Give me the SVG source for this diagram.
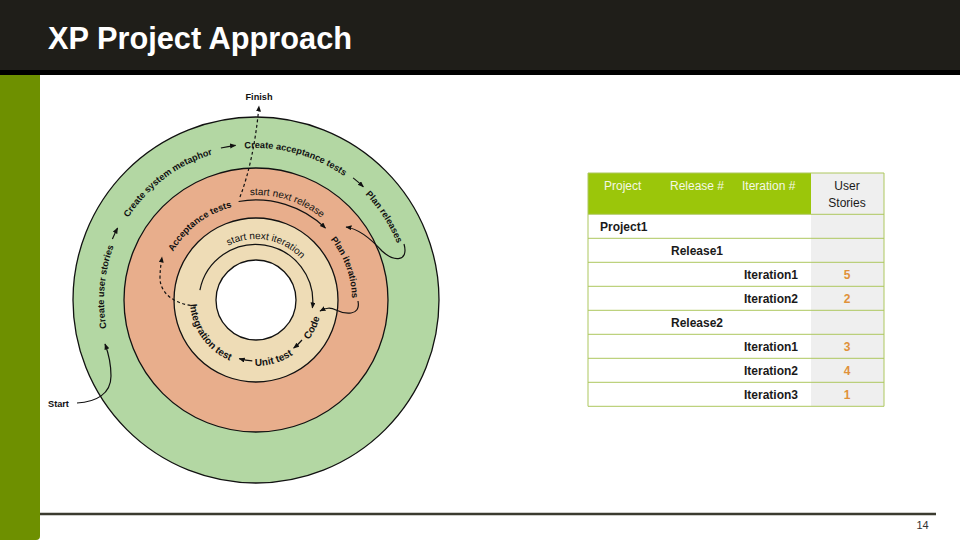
<svg xmlns="http://www.w3.org/2000/svg" xmlns:xlink="http://www.w3.org/1999/xlink" width="960" height="540" viewBox="0 0 960 540">
<style>
.lbl{font-family:"Liberation Sans",Arial,sans-serif;font-size:9.2px;font-weight:bold;fill:#111}
.lblr{font-family:"Liberation Sans",Arial,sans-serif;font-size:10px;fill:#111}
.lblb{font-family:"Liberation Sans",Arial,sans-serif;font-size:10px;font-weight:bold;fill:#111}
.ring{stroke:#111;stroke-width:1.3}
.con{fill:none;stroke:#111;stroke-width:1.2}
.dash{stroke-dasharray:3,2.5}
.th{font-family:"Liberation Sans",Arial,sans-serif;font-size:12px;fill:#f4f8e6}
.td{font-family:"Liberation Sans",Arial,sans-serif;font-size:12px;font-weight:bold;fill:#1a1a1a}
.num{font-family:"Liberation Sans",Arial,sans-serif;font-size:12px;font-weight:bold;fill:#e0913a;text-anchor:middle}
.grid{stroke:#adc75e;stroke-width:1}
</style>
<defs>
<marker id="ah" markerWidth="7" markerHeight="6" refX="5.5" refY="2.5" orient="auto" markerUnits="userSpaceOnUse">
<path d="M0,0 L6,2.5 L0,5 z" fill="#111"/>
</marker>
<path id="pGreen" d="M256,452 A152,152 0 1 1 256,148 A152,152 0 1 1 256,452"/>
<path id="pSalmon" d="M256,396 A96,96 0 1 1 256,204 A96,96 0 1 1 256,396"/>
<path id="pRel" d="M256,405 A105,105 0 1 1 256,195 A105,105 0 1 1 256,405"/>
<path id="pIter" d="M256,361 A61,61 0 1 1 256,239 A61,61 0 1 1 256,361"/>
<path id="pBeigeCCW" d="M256,234 A66,66 0 1 0 256,366 A66,66 0 1 0 256,234"/>
</defs>

<!-- slide frame -->
<rect x="0" y="0" width="960" height="70" fill="#1f1e19"/>
<rect x="0" y="70" width="960" height="5" fill="#000"/>
<path d="M0,75 H40 V536 Q40,540 36,540 H0 z" fill="#6e9000"/>
<text x="48" y="49" textLength="304" lengthAdjust="spacingAndGlyphs" style="font-family:'Liberation Sans',Arial,sans-serif;font-size:31px;font-weight:bold;fill:#fff">XP Project Approach</text>
<line x1="40" y1="514" x2="936" y2="514" stroke="#3b3b2f" stroke-width="2.5"/>
<text x="922.5" y="529" text-anchor="middle" style="font-family:'Liberation Sans',Arial,sans-serif;font-size:11px;fill:#333">14</text>

<!-- rings -->
<g id="ring-project"><circle class="ring" cx="256" cy="300" r="183" fill="#b3d7a3"/></g>
<g id="ring-release"><circle class="ring" cx="256" cy="300" r="132" fill="#e8ae8c"/></g>
<g id="ring-iteration"><circle class="ring" cx="256" cy="300" r="82" fill="#eedcb6"/></g>
<g id="ring-core"><circle class="ring" cx="256" cy="300" r="40" fill="#fff"/></g>

<!-- nodes (labels) -->
<g id="node-finish"><text class="lbl" x="259" y="100" text-anchor="middle">Finish</text></g>
<g id="node-start"><text class="lbl" x="48" y="407">Start</text></g>
<g id="node-user-stories"><text class="lbl" text-anchor="middle"><textPath xlink:href="#pGreen" href="#pGreen" startOffset="252">Create user stories</textPath></text></g>
<g id="node-metaphor"><text class="lbl" text-anchor="middle"><textPath xlink:href="#pGreen" href="#pGreen" startOffset="379.4">Create system metaphor</textPath></text></g>
<g id="node-acceptance-create"><text class="lbl" text-anchor="middle"><textPath xlink:href="#pGreen" href="#pGreen" startOffset="518.6">Create acceptance tests</textPath></text></g>
<g id="node-plan-releases"><text class="lbl" text-anchor="middle"><textPath xlink:href="#pGreen" href="#pGreen" startOffset="628.7">Plan releases</textPath></text></g>
<g id="node-acceptance-tests"><text class="lbl" text-anchor="middle"><textPath xlink:href="#pSalmon" href="#pSalmon" startOffset="238.8">Acceptance tests</textPath></text></g>
<g id="node-plan-iterations"><text class="lbl" text-anchor="middle"><textPath xlink:href="#pSalmon" href="#pSalmon" startOffset="418">Plan iterations</textPath></text></g>
<g id="node-next-release"><text class="lblr" text-anchor="middle"><textPath xlink:href="#pRel" href="#pRel" startOffset="361.9">start next release</textPath></text></g>
<g id="node-next-iteration"><text class="lblr" text-anchor="middle"><textPath xlink:href="#pIter" href="#pIter" startOffset="202.3">start next iteration</textPath></text></g>
<g id="node-integration"><text class="lblb" text-anchor="middle"><textPath xlink:href="#pBeigeCCW" href="#pBeigeCCW" startOffset="144">Integration test</textPath></text></g>
<g id="node-unit"><text class="lblb" text-anchor="middle"><textPath xlink:href="#pBeigeCCW" href="#pBeigeCCW" startOffset="226.3">Unit test</textPath></text></g>
<g id="node-code"><text class="lblb" text-anchor="middle"><textPath xlink:href="#pBeigeCCW" href="#pBeigeCCW" startOffset="280.4">Code</textPath></text></g>

<!-- connectors -->
<g id="connectors">
<path class="con" marker-end="url(#ah)" d="M112.4,239.1 A156,156 0 0 1 117.6,228"/>
<path class="con" marker-end="url(#ah)" d="M220.9,148 A156,156 0 0 1 235.6,145.3"/>
<path class="con" marker-end="url(#ah)" d="M353.1,177.9 A156,156 0 0 1 363.4,186.8"/>
<path class="con" marker-end="url(#ah)" d="M238.6,201.5 A100,100 0 0 1 325.5,228.1"/>
<path class="con" marker-end="url(#ah)" d="M199.9,290.1 A57,57 0 0 1 312.4,307.9"/>
<path class="con" marker-end="url(#ah)" d="M302,340 A61,61 0 0 1 293.6,348.1"/>
<path class="con" marker-end="url(#ah)" d="M252.3,360.9 A61,61 0 0 1 239.2,358.6"/>
<path class="con dash" marker-end="url(#ah)" d="M240,197 Q254,160 259,106"/>
<path class="con" marker-end="url(#ah)" d="M77,403 C96,402 111,394 111,376 C111,362 108,352 105,344"/>
<path class="con" marker-end="url(#ah)" d="M404,244 C409,262 394,262 382,251 C372,240 360,229 346,227"/>
<path class="con" marker-end="url(#ah)" d="M358,301 C361,317 344,314 336,310 C330,307 326,308 320,311"/>
<path class="con dash" marker-end="url(#ah)" d="M196,306 C176,305 160,294 160,278 C160,270 161,264 162,257"/>
</g>

<!-- table -->
<g id="table">
<rect x="588" y="173" width="223" height="41" fill="#9bc60a"/>
<rect x="811" y="173" width="73" height="233" fill="#efefef"/>
<line class="grid" x1="588" y1="173" x2="884" y2="173"/>
<line class="grid" x1="588" y1="214.3" x2="884" y2="214.3"/>
<line class="grid" x1="588" y1="238.3" x2="884" y2="238.3"/>
<line class="grid" x1="588" y1="262.3" x2="884" y2="262.3"/>
<line class="grid" x1="588" y1="286.3" x2="884" y2="286.3"/>
<line class="grid" x1="588" y1="310.3" x2="884" y2="310.3"/>
<line class="grid" x1="588" y1="334.3" x2="884" y2="334.3"/>
<line class="grid" x1="588" y1="358.3" x2="884" y2="358.3"/>
<line class="grid" x1="588" y1="382.3" x2="884" y2="382.3"/>
<line class="grid" x1="588" y1="406.3" x2="884" y2="406.3"/>
<line class="grid" x1="588" y1="173" x2="588" y2="406.3"/>
<line class="grid" x1="884" y1="173" x2="884" y2="406.3"/>
<text class="th" x="604" y="190">Project</text>
<text class="th" x="670" y="190">Release #</text>
<text class="th" x="742" y="190">Iteration #</text>
<text class="td" x="847" y="190" text-anchor="middle" style="font-weight:normal">User</text>
<text class="td" x="847" y="207" text-anchor="middle" style="font-weight:normal">Stories</text>
<text class="td" x="600" y="230.5">Project1</text>
<text class="td" x="671" y="254.5">Release1</text>
<text class="td" x="744" y="278.5">Iteration1</text>
<text class="num" x="847" y="278.5">5</text>
<text class="td" x="744" y="302.5">Iteration2</text>
<text class="num" x="847" y="302.5">2</text>
<text class="td" x="671" y="326.5">Release2</text>
<text class="td" x="744" y="350.5">Iteration1</text>
<text class="num" x="847" y="350.5">3</text>
<text class="td" x="744" y="374.5">Iteration2</text>
<text class="num" x="847" y="374.5">4</text>
<text class="td" x="744" y="398.5">Iteration3</text>
<text class="num" x="847" y="398.5">1</text>
</g>
</svg>
